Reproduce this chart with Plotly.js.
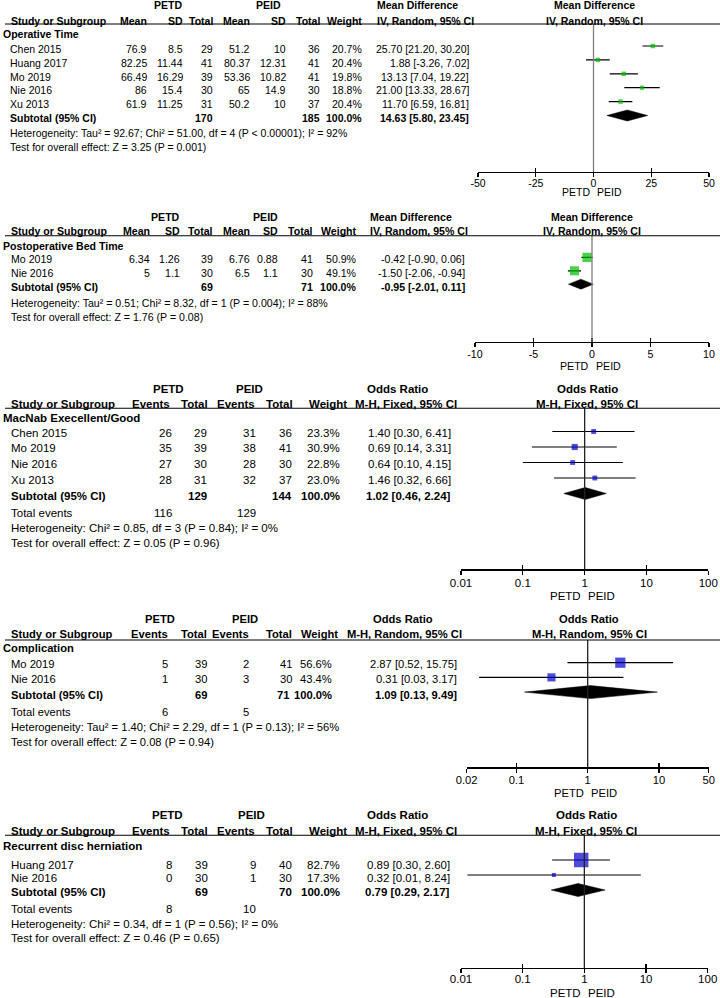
<!DOCTYPE html>
<html><head><meta charset="utf-8">
<script src="https://cdn.plot.ly/plotly-3.0.1.min.js"></script>
<style>html,body{margin:0;padding:0;background:#fff}#chart{width:720px;height:998px}</style>
</head><body><div id="chart"></div>
<script>
// ---------- DATA ----------
// Panel 1: Operative Time (mean difference, IV random)
const opStudies = ["Chen 2015","Huang 2017","Mo 2019","Nie 2016","Xu 2013"];
const opPetdMean = [76.9, 82.25, 66.49, 86, 61.9];
const opPetdSD   = [8.5, 11.44, 16.29, 15.4, 11.25];
const opPetdN    = [29, 41, 39, 30, 31];
const opPeidMean = [51.2, 80.37, 53.36, 65, 50.2];
const opPeidSD   = [10, 12.31, 10.82, 14.9, 10];
const opPeidN    = [36, 41, 41, 30, 37];
const opWeight   = [20.7, 20.4, 19.8, 18.8, 20.4];
const opEst      = [25.70, 1.88, 13.13, 21.00, 11.70];
const opLo       = [21.20, -3.26, 7.04, 13.33, 6.59];
const opHi       = [30.20, 7.02, 19.22, 28.67, 16.81];
const opSubN     = [170, 185];
const opSubCI    = [14.63, 5.80, 23.45];
const opHet  = "Heterogeneity: Tau² = 92.67; Chi² = 51.00, df = 4 (P < 0.00001); I² = 92%";
const opTest = "Test for overall effect: Z = 3.25 (P = 0.001)";
const opTicks = [-50, -25, 0, 25, 50];
const opTickText = ["-50", "-25", "0", "25", "50"];

// Panel 2: Postoperative Bed Time
const bedStudies = ["Mo 2019","Nie 2016"];
const bedPetdMean = [6.34, 5];
const bedPetdSD   = [1.26, 1.1];
const bedPetdN    = [39, 30];
const bedPeidMean = [6.76, 6.5];
const bedPeidSD   = [0.88, 1.1];
const bedPeidN    = [41, 30];
const bedWeight   = [50.9, 49.1];
const bedEst      = [-0.42, -1.50];
const bedLo       = [-0.90, -2.06];
const bedHi       = [0.06, -0.94];
const bedSubN     = [69, 71];
const bedSubCI    = [-0.95, -2.01, 0.11];
const bedHet  = "Heterogeneity: Tau² = 0.51; Chi² = 8.32, df = 1 (P = 0.004); I² = 88%";
const bedTest = "Test for overall effect: Z = 1.76 (P = 0.08)";
const bedTicks = [-10, -5, 0, 5, 10];
const bedTickText = ["-10", "-5", "0", "5", "10"];

// Panel 3: MacNab Excellent/Good (odds ratio, M-H fixed)
const macStudies = ["Chen 2015","Mo 2019","Nie 2016","Xu 2013"];
const macPetdEv = [26, 35, 27, 28];
const macPetdN  = [29, 39, 30, 31];
const macPeidEv = [31, 38, 28, 32];
const macPeidN  = [36, 41, 30, 37];
const macWeight = [23.3, 30.9, 22.8, 23.0];
const macEst    = [1.40, 0.69, 0.64, 1.46];
const macLo     = [0.30, 0.14, 0.10, 0.32];
const macHi     = [6.41, 3.31, 4.15, 6.66];
const macSubN   = [129, 144];
const macTotEv  = [116, 129];
const macSubCI  = [1.02, 0.46, 2.24];
const macHet  = "Heterogeneity: Chi² = 0.85, df = 3 (P = 0.84); I² = 0%";
const macTest = "Test for overall effect: Z = 0.05 (P = 0.96)";
const orTicks = [0.01, 0.1, 1, 10, 100];
const orTickText = ["0.01", "0.1", "1", "10", "100"];

// Panel 4: Complication (odds ratio, M-H random)
const comStudies = ["Mo 2019","Nie 2016"];
const comPetdEv = [5, 1];
const comPetdN  = [39, 30];
const comPeidEv = [2, 3];
const comPeidN  = [41, 30];
const comWeight = [56.6, 43.4];
const comEst    = [2.87, 0.31];
const comLo     = [0.52, 0.03];
const comHi     = [15.75, 3.17];
const comSubN   = [69, 71];
const comTotEv  = [6, 5];
const comSubCI  = [1.09, 0.13, 9.49];
const comHet  = "Heterogeneity: Tau² = 1.40; Chi² = 2.29, df = 1 (P = 0.13); I² = 56%";
const comTest = "Test for overall effect: Z = 0.08 (P = 0.94)";
const comTicks = [0.02, 0.1, 1, 10, 50];
const comTickText = ["0.02", "0.1", "1", "10", "50"];

// Panel 5: Recurrent disc herniation (odds ratio, M-H fixed)
const recStudies = ["Huang 2017","Nie 2016"];
const recPetdEv = [8, 0];
const recPetdN  = [39, 30];
const recPeidEv = [9, 1];
const recPeidN  = [40, 30];
const recWeight = [82.7, 17.3];
const recEst    = [0.89, 0.32];
const recLo     = [0.30, 0.0127];
const recHi     = [2.60, 8.24];
const recSubN   = [69, 70];
const recTotEv  = [8, 10];
const recSubCI  = [0.79, 0.29, 2.17];
const recHet  = "Heterogeneity: Chi² = 0.34, df = 1 (P = 0.56); I² = 0%";
const recTest = "Test for overall effect: Z = 0.46 (P = 0.65)";

// ---------- BUILD ----------
const W = 720, H = 998;
const FONT = '"Liberation Sans", Arial, Helvetica, sans-serif';
const GREEN = '#00BE00', BLUE = '#0000C8';
const PX = p => p / W, PY = p => 1 - p / H;
const traces = [], annotations = [], shapes = [];
const layout = {
  width: W, height: H, margin: {l: 0, r: 0, t: 0, b: 0, pad: 0},
  paper_bgcolor: '#fff', plot_bgcolor: 'rgba(0,0,0,0)', showlegend: false,
  font: {family: FONT, color: '#000'}
};

function txt(x, y, text, anchor, size, bold) {
  annotations.push({
    xref: 'paper', yref: 'paper', x: PX(x), y: PY(y),
    text: bold ? '<b>' + text + '</b>' : text,
    showarrow: false, xanchor: anchor, yanchor: 'middle',
    borderpad: 0, borderwidth: 0,
    font: {family: FONT, size: size, color: '#000'}
  });
}
const fmtCI = (e, l, h) => e.toFixed(2) + ' [' + l.toFixed(2) + ', ' + h.toFixed(2) + ']';
const fmtW = w => w.toFixed(1) + '%';

function buildPanel(k, c, d) {
  const sfx = k === 1 ? '' : String(k);
  const xr = 'x' + sfx, yr = 'y' + sfx, ovr = 'x' + (k + 5);
  const v = p => (p - c.m0) / c.mp;          // pixel row -> row units
  const isLog = c.log;
  const tk = d.ticks;
  const range = isLog ? [Math.log10(tk[0]), Math.log10(tk[tk.length - 1])] : [tk[0], tk[tk.length - 1]];
  layout['yaxis' + sfx] = {domain: [PY(c.yAxis), PY(c.yTop)], range: [v(c.yAxis), v(c.yTop)],
    visible: false, fixedrange: true};
  layout['xaxis' + sfx] = {domain: [PX(c.xL), PX(c.xR)], range: range, type: isLog ? 'log' : 'linear',
    anchor: yr, showline: true, linecolor: '#000', linewidth: 1.2, ticks: 'outside', ticklen: 4,
    tickwidth: 1.2, tickcolor: '#000', tickmode: 'array', tickvals: tk, ticktext: d.tickText,
    showgrid: false, zeroline: false, ticklabelstandoff: c.standoff,
    tickfont: {family: FONT, size: c.fs, color: '#000'}, fixedrange: true};
  layout['xaxis' + (k + 5)] = {overlaying: xr, domain: [PX(c.xL), PX(c.xR)], range: range,
    type: isLog ? 'log' : 'linear', anchor: yr, showline: false, ticks: 'inside', ticklen: 4,
    tickwidth: 1.2, tickcolor: '#000', tickmode: 'array', tickvals: tk, showticklabels: false,
    showgrid: false, zeroline: false, fixedrange: true};
  traces.push({type: 'scatter', mode: 'markers', x: [tk[0]], y: [v(c.yAxis)], xaxis: ovr, yaxis: yr,
    marker: {opacity: 0}, hoverinfo: 'skip', showlegend: false});

  const n = d.studies.length;
  const rows = d.studies.map((s, i) => i);
  // CI whiskers
  const lx = [], ly = [];
  rows.forEach(i => { lx.push(d.lo[i], d.hi[i], null); ly.push(i, i, null); });
  traces.push({type: 'scatter', mode: 'lines', x: lx, y: ly, xaxis: xr, yaxis: yr,
    line: {color: '#000', width: 1.2}, hoverinfo: 'skip', showlegend: false, cliponaxis: false});
  // squares
  traces.push({type: 'scatter', mode: 'markers', x: d.est, y: rows, xaxis: xr, yaxis: yr,
    marker: {symbol: 'square', color: c.color, size: d.weight.map(w => 0.16 * w + 1.2), line: {width: 0}},
    hoverinfo: 'skip', showlegend: false, cliponaxis: false});
  // diamond
  const dh = c.dh / c.mp;
  traces.push({type: 'scatter', mode: 'lines', fill: 'toself', fillcolor: '#000',
    x: [d.sub[1], d.sub[0], d.sub[2], d.sub[0], d.sub[1]],
    y: [n, n - dh, n, n + dh, n], xaxis: xr, yaxis: yr,
    line: {color: '#000', width: 0.5}, hoverinfo: 'skip', showlegend: false});
  // null line
  shapes.push({type: 'line', xref: xr, yref: yr + ' domain', x0: c.nullVal, x1: c.nullVal, y0: 0, y1: 1,
    line: {color: c.nullColor, width: 1.3}});
  // header underline
  shapes.push({type: 'line', xref: 'paper', yref: 'paper', x0: PX(5), x1: 1, y0: PY(c.yTop), y1: PY(c.yTop),
    line: {color: '#000', width: 1.1}});

  const fs = c.fs;
  txt(c.g1, c.gy, 'PETD', 'center', fs, true);
  txt(c.g2, c.gy, 'PEID', 'center', fs, true);
  txt(11, c.hy, 'Study or Subgroup', 'left', fs, true);
  d.headLabels.forEach((h, j) => txt(c.headCols[j], c.hy, h, 'right', fs, true));
  txt(c.ch1[0], c.gy, d.method1, c.ch1[1], fs, true);
  txt(c.ch2[0], c.hy, d.method2, c.ch2[1], fs, true);
  txt(c.ph, c.gy, d.method1, 'center', fs, true);
  txt(c.ph, c.hy, d.method2, 'center', fs, true);
  txt(2.5, c.secY, d.section, 'left', fs, true);
  rows.forEach(i => {
    const y = c.t0 + i * c.tp;
    txt(c.labX, y, d.studies[i], 'left', fs, false);
    d.cells[i].forEach((val, j) => txt(c.cols[j], y, val, 'right', fs, false));
    txt(c.ci, y, fmtCI(d.est[i], d.lo[i], d.hi[i]), 'right', fs, false);
  });
  const ys = c.t0 + n * c.tp;
  txt(c.labX, ys, 'Subtotal (95% CI)', 'left', fs, true);
  txt(c.cols[d.nCol1], ys, String(d.subN[0]), 'right', fs, true);
  txt(c.cols[d.nCol2] - (c.subShift || 0), ys, String(d.subN[1]), 'right', fs, true);
  txt(c.cols[d.wCol], ys, '100.0%', 'right', fs, true);
  txt(c.ci, ys, fmtCI(d.sub[0], d.sub[1], d.sub[2]), 'right', fs, true);
  if (d.totEv) {
    txt(c.labX, c.totY, 'Total events', 'left', fs, false);
    txt(c.cols[0], c.totY, String(d.totEv[0]), 'right', fs, false);
    txt(c.cols[2], c.totY, String(d.totEv[1]), 'right', fs, false);
  }
  txt(c.labX, c.hetY, d.het, 'left', fs, false);
  txt(c.labX, c.testY, d.test, 'left', fs, false);
  const frac = isLog ? (Math.log10(c.nullVal) - range[0]) / (range[1] - range[0])
                     : (c.nullVal - range[0]) / (range[1] - range[0]);
  const nx = c.xL + frac * (c.xR - c.xL);
  txt(nx - 3.5, c.favY, 'PETD', 'right', fs, false);
  txt(nx + 3.5, c.favY, 'PEID', 'left', fs, false);
}

function contCells(m1, s1, n1, m2, s2, n2, w) {
  return m1.map((_, i) => [String(m1[i]), String(s1[i]), String(n1[i]), String(m2[i]), String(s2[i]), String(n2[i]), fmtW(w[i])]);
}
function dichCells(e1, n1, e2, n2, w) {
  return e1.map((_, i) => [String(e1[i]), String(n1[i]), String(e2[i]), String(n2[i]), fmtW(w[i])]);
}
const contHead = ['Mean', 'SD', 'Total', 'Mean', 'SD', 'Total', 'Weight'];
const dichHead = ['Events', 'Total', 'Events', 'Total', 'Weight'];

buildPanel(1, {yTop: 24, yAxis: 171.7, m0: 46, mp: 13.9, t0: 49.3, tp: 13.7, xL: 478, xR: 709, fs: 10.5,
  gy: 5.3, hy: 20.5, g1: 168, g2: 268, secY: 33.7, hetY: 133.3, testY: 146.7, favY: 192, labX: 10,
  cols: [146.7, 182.7, 213.3, 250, 286, 320, 362], headCols: [146.7, 182.7, 213.3, 250, 286, 320, 362],
  ci: 469.3, ch1: [376.7, 'left'], ch2: [376.7, 'left'], ph: 594, dh: 5.5, color: GREEN,
  nullVal: 0, nullColor: '#808080', standoff: -3},
  {studies: opStudies, est: opEst, lo: opLo, hi: opHi, weight: opWeight, sub: opSubCI, subN: opSubN,
   cells: contCells(opPetdMean, opPetdSD, opPetdN, opPeidMean, opPeidSD, opPeidN, opWeight),
   headLabels: contHead, nCol1: 2, nCol2: 5, wCol: 6, method1: 'Mean Difference', method2: 'IV, Random, 95% CI',
   section: 'Operative Time', het: opHet, test: opTest, ticks: opTicks, tickText: opTickText});

buildPanel(2, {yTop: 235.7, yAxis: 341.7, m0: 257.4, mp: 13.4, t0: 259, tp: 14.1, xL: 475, xR: 709, fs: 10.6,
  gy: 216.5, hy: 231, g1: 165, g2: 265, secY: 245.7, hetY: 303, testY: 316.7, favY: 366, labX: 11,
  cols: [150, 180, 213.3, 250, 278.3, 313.3, 356.7], headCols: [150, 180, 213.3, 250, 278.3, 313.3, 356.7],
  ci: 465, ch1: [370, 'left'], ch2: [370, 'left'], ph: 592, dh: 5, color: GREEN,
  nullVal: 0, nullColor: '#808080', standoff: -2},
  {studies: bedStudies, est: bedEst, lo: bedLo, hi: bedHi, weight: bedWeight, sub: bedSubCI, subN: bedSubN,
   cells: contCells(bedPetdMean, bedPetdSD, bedPetdN, bedPeidMean, bedPeidSD, bedPeidN, bedWeight),
   headLabels: contHead, nCol1: 2, nCol2: 5, wCol: 6, method1: 'Mean Difference', method2: 'IV, Random, 95% CI',
   section: 'Postoperative Bed Time', het: bedHet, test: bedTest, ticks: bedTicks, tickText: bedTickText});

buildPanel(3, {yTop: 408.3, yAxis: 569.3, m0: 431.5, mp: 15.5, t0: 432.5, tp: 16, xL: 461, xR: 708.3, fs: 11.5,
  log: true, gy: 388.7, hy: 403.8, g1: 168, g2: 249, secY: 418.3, totY: 512.7, hetY: 528.3, testY: 542.7,
  favY: 596, labX: 11, cols: [172, 207.5, 255.5, 292, 340], headCols: [170, 208, 255, 293, 347],
  ci: 451, ch1: [366.7, 'left'], ch2: [457, 'right'], ph: 587, dh: 6, color: BLUE,
  nullVal: 1, nullColor: '#222', standoff: -1},
  {studies: macStudies, est: macEst, lo: macLo, hi: macHi, weight: macWeight, sub: macSubCI, subN: macSubN,
   totEv: macTotEv, cells: dichCells(macPetdEv, macPetdN, macPeidEv, macPeidN, macWeight),
   headLabels: dichHead, nCol1: 1, nCol2: 3, wCol: 4, method1: 'Odds Ratio', method2: 'M-H, Fixed, 95% CI',
   section: 'MacNab Execellent/Good', het: macHet, test: macTest, ticks: orTicks, tickText: orTickText});

buildPanel(4, {yTop: 640, yAxis: 767.3, m0: 662.7, mp: 14.7, t0: 663.5, tp: 15.7, xL: 466.6, xR: 708.8, fs: 11.2,
  log: true, gy: 618.5, hy: 633.8, g1: 160, g2: 245, secY: 648, totY: 711.7, hetY: 726.7, testY: 741.7,
  favY: 793, labX: 11, cols: [168, 207, 249, 291.7, 331.7], headCols: [168, 207, 249, 292, 338],
  ci: 456.7, ch1: [373, 'left'], ch2: [461.7, 'right'], ph: 589, dh: 6.5, color: BLUE, subShift: 2.5,
  nullVal: 1, nullColor: '#222', standoff: -2},
  {studies: comStudies, est: comEst, lo: comLo, hi: comHi, weight: comWeight, sub: comSubCI, subN: comSubN,
   totEv: comTotEv, cells: dichCells(comPetdEv, comPetdN, comPeidEv, comPeidN, comWeight),
   headLabels: dichHead, nCol1: 1, nCol2: 3, wCol: 4, method1: 'Odds Ratio', method2: 'M-H, Random, 95% CI',
   section: 'Complication', het: comHet, test: comTest, ticks: comTicks, tickText: comTickText});

buildPanel(5, {yTop: 835.3, yAxis: 967.7, m0: 860, mp: 15, t0: 865, tp: 13.4, xL: 461, xR: 707.7, fs: 11.5,
  log: true, gy: 815, hy: 830.5, g1: 167, g2: 251, secY: 846, totY: 909.3, hetY: 924, testY: 938.3,
  favY: 993, labX: 11, cols: [172, 208, 255.5, 291.7, 340], headCols: [170, 208, 255, 293, 347],
  ci: 450, ch1: [366.7, 'left'], ch2: [456.7, 'right'], ph: 586, dh: 6.5, color: BLUE,
  nullVal: 1, nullColor: '#222', standoff: -4},
  {studies: recStudies, est: recEst, lo: recLo, hi: recHi, weight: recWeight, sub: recSubCI, subN: recSubN,
   totEv: recTotEv, cells: dichCells(recPetdEv, recPetdN, recPeidEv, recPeidN, recWeight),
   headLabels: dichHead, nCol1: 1, nCol2: 3, wCol: 4, method1: 'Odds Ratio', method2: 'M-H, Fixed, 95% CI',
   section: 'Recurrent disc herniation', het: recHet, test: recTest, ticks: orTicks, tickText: orTickText});

layout.annotations = annotations;
layout.shapes = shapes;
Plotly.newPlot('chart', traces, layout, {staticPlot: true, displayModeBar: false});
</script>
</body></html>
